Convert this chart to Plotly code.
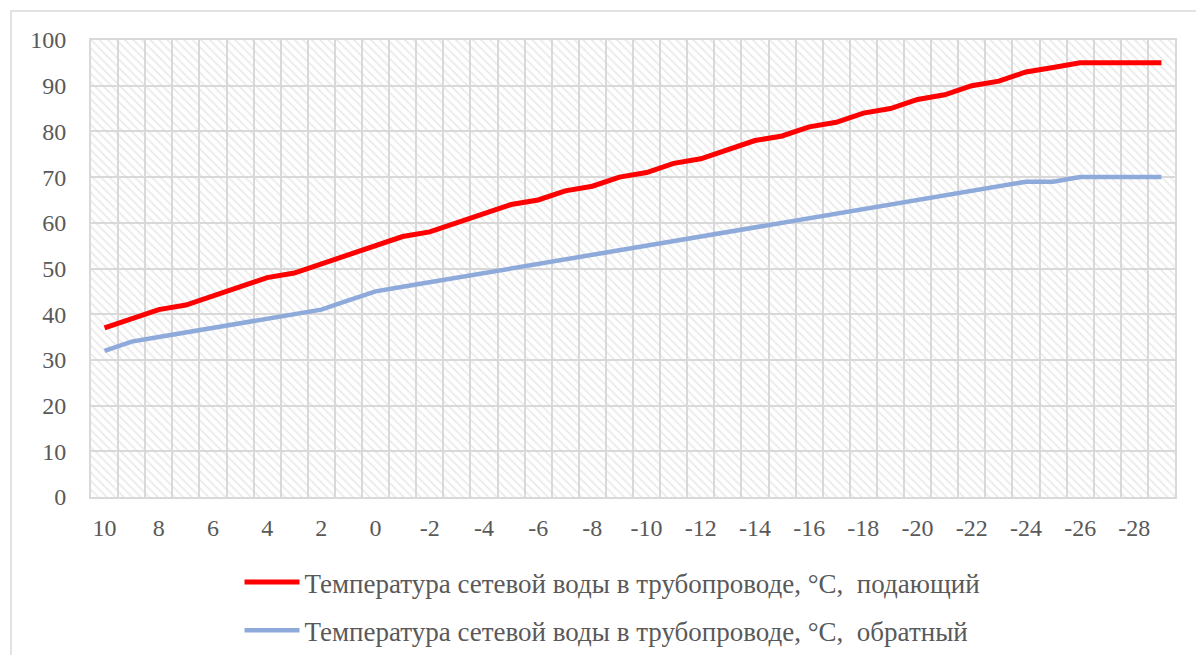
import plotly.graph_objects as go

categories = [str(v) for v in range(10, -30, -1)]
supply = [37, 39, 41, 42, 44, 46, 48, 49, 51, 53, 55, 57, 58, 60, 62, 64, 65, 67, 68, 70,
          71, 73, 74, 76, 78, 79, 81, 82, 84, 85, 87, 88, 90, 91, 93, 94, 95, 95, 95, 95]
ret = [32, 34, 35, 36, 37, 38, 39, 40, 41, 43, 45, 46, 47, 48, 49, 50, 51, 52, 53, 54,
       55, 56, 57, 58, 59, 60, 61, 62, 63, 64, 65, 66, 67, 68, 69, 69, 70, 70, 70, 70]
name_supply = "Температура сетевой воды в трубопроводе, °C,  подающий"
name_return = "Температура сетевой воды в трубопроводе, °C,  обратный"
tick_text = [c if i % 2 == 0 else "" for i, c in enumerate(categories)]
Y_MAX = 100

FONT = "Liberation Serif"
GRID = "#d9d9d9"
TXT = "#595959"

fig = go.Figure()
# hatched plot-area backdrop
fig.add_trace(go.Bar(
    x=categories, y=[Y_MAX] * len(categories), width=1,
    marker=dict(color="rgba(0,0,0,0)", line=dict(width=0),
                pattern=dict(shape="\\", fgcolor="#d6d6d6", bgcolor="rgba(0,0,0,0)",
                             size=6, solidity=0.3)),
    showlegend=False, hoverinfo="skip"))
fig.add_trace(go.Scatter(x=categories, y=supply, mode="lines", name=name_supply,
                         legendgroup="a",
                         line=dict(color="#ff0000", width=5)))
fig.add_trace(go.Scatter(x=categories, y=ret, mode="lines", name=name_return,
                         legendgroup="b",
                         line=dict(color="#8eaadb", width=4.5)))

fig.update_layout(
    width=1196, height=655,
    margin=dict(l=91, r=21, t=40, b=158),
    paper_bgcolor="white", plot_bgcolor="white",
    bargap=0,
    font=dict(family=FONT, color=TXT, size=24),
    xaxis=dict(type="category", tickson="boundaries", tickvals=categories, ticktext=tick_text,
               tickangle=0, ticklabelstandoff=8,
               showgrid=True, gridcolor=GRID, gridwidth=2,
               ticks="", 
               showline=True, linecolor=GRID, linewidth=2, mirror=True,
               tickfont=dict(family=FONT, size=24, color=TXT), range=[-0.5, len(categories) - 0.5]),
    yaxis=dict(range=[0, Y_MAX], dtick=10, showgrid=True, gridcolor=GRID, gridwidth=2,
               zeroline=False, showline=True, linecolor=GRID, linewidth=2, mirror=True,
               ticks="outside", ticklen=18, tickcolor="rgba(0,0,0,0)",
               tickfont=dict(family=FONT, size=24, color=TXT)),
    legend=dict(orientation="v", x=0.137, xanchor="left", yref="container", y=0.0,
                yanchor="bottom",
                font=dict(family=FONT, size=27, color=TXT), itemwidth=55, tracegroupgap=10,
                bgcolor="rgba(0,0,0,0)"),
    showlegend=True,
    shapes=[dict(type="rect", xref="paper", yref="paper", x0=-0.0738, x1=1.2,
                 y0=-0.6, y1=1.0635, line=dict(color="#d9d9d9", width=1.5),
                 fillcolor="rgba(0,0,0,0)", layer="below")],
)

fig.write_html("out.html", config={"displayModeBar": False},
               post_script="document.body.style.margin='0';")
